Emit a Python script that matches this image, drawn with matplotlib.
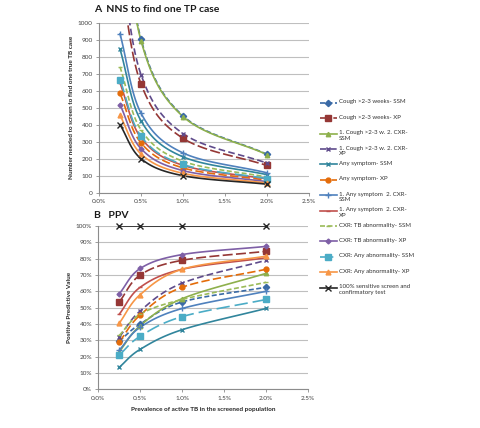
import numpy as np
import matplotlib
matplotlib.use("Agg")
import matplotlib.pyplot as plt
from matplotlib.lines import Line2D
from matplotlib.ticker import FuncFormatter

plt.rcParams['font.family'] = ['Lato', 'DejaVu Sans']

prev = [0.25, 0.5, 1.0, 2.0]

labels = [
    "Cough >2-3 weeks- SSM",
    "Cough >2-3 weeks- XP",
    "1. Cough >2-3 w. 2. CXR-\nSSM",
    "1. Cough >2-3 w. 2. CXR-\nXP",
    "Any symptom- SSM",
    "Any symptom- XP",
    "1. Any symptom  2. CXR-\nSSM",
    "1. Any symptom  2. CXR-\nXP",
    "CXR: TB abnormality- SSM",
    "CXR: TB abnormality- XP",
    "CXR: Any abnormality- SSM",
    "CXR: Any abnormality- XP",
    "100% sensitive screen and\nconfirmatory test",
]

# Panel A: number needed to screen
nns_cough_ssm = [1808, 904, 452, 226]
nns_cough_xp = [1280, 640, 320, 160]
nns_cough_cxr_ssm = [1790, 895, 448, 224]
nns_cough_cxr_xp = [1390, 695, 348, 174]
nns_any_ssm = [845, 423, 211, 106]
nns_any_xp = [585, 293, 146, 73]
nns_any_cxr_ssm = [935, 468, 234, 117]
nns_any_cxr_xp = [645, 323, 161, 81]
nns_tb_ssm = [740, 370, 185, 92]
nns_tb_xp = [518, 259, 130, 65]
nns_anyab_ssm = [665, 333, 166, 83]
nns_anyab_xp = [455, 228, 114, 57]
nns_perfect = [400, 200, 100, 50]

# Panel B: positive predictive value (%)
ppv_cough_ssm = [29.5, 40, 53.5, 62.5]
ppv_cough_xp = [53.5, 70, 79, 84.5]
ppv_cough_cxr_ssm = [23, 39, 55.5, 71]
ppv_cough_cxr_xp = [32, 48, 65, 79]
ppv_any_ssm = [13.5, 24.5, 36.5, 49.5]
ppv_any_xp = [29, 45.5, 62.5, 73.5]
ppv_any_cxr_ssm = [24, 38, 49.5, 60]
ppv_any_cxr_xp = [46, 62.5, 73.5, 80.5]
ppv_tb_ssm = [33, 46, 55, 65.5]
ppv_tb_xp = [58.5, 74, 82.5, 87.5]
ppv_anyab_ssm = [21, 32.5, 44.5, 55]
ppv_anyab_xp = [40.5, 58, 73.5, 81.5]
ppv_perfect = [100, 100, 100, 100]

nns = [nns_cough_ssm, nns_cough_xp, nns_cough_cxr_ssm, nns_cough_cxr_xp,
       nns_any_ssm, nns_any_xp, nns_any_cxr_ssm, nns_any_cxr_xp,
       nns_tb_ssm, nns_tb_xp, nns_anyab_ssm, nns_anyab_xp, nns_perfect]
ppv = [ppv_cough_ssm, ppv_cough_xp, ppv_cough_cxr_ssm, ppv_cough_cxr_xp,
       ppv_any_ssm, ppv_any_xp, ppv_any_cxr_ssm, ppv_any_cxr_xp,
       ppv_tb_ssm, ppv_tb_xp, ppv_anyab_ssm, ppv_anyab_xp, ppv_perfect]

styles = [
    dict(color='#3A6AA6', ls=(0, (3, 1.5)), marker='D', ms=3.2),
    dict(color='#953735', ls=(0, (6, 2)), marker='s', ms=3.8),
    dict(color='#8EB04C', ls='-', marker='^', ms=3.2),
    dict(color='#5F4B8B', ls=(0, (4, 2)), marker='x', ms=3.5),
    dict(color='#31859C', ls='-', marker='x', ms=3.2),
    dict(color='#E46C0A', ls=(0, (5, 2)), marker='o', ms=3.5),
    dict(color='#4F81BD', ls='-', marker='+', ms=4),
    dict(color='#C0504D', ls='-', marker='_', ms=3),
    dict(color='#9BBB59', ls=(0, (3, 1.5)), marker='_', ms=3),
    dict(color='#7E5FA6', ls='-', marker='D', ms=2.5),
    dict(color='#4BACC6', ls=(0, (8, 3)), marker='s', ms=3.8),
    dict(color='#F79646', ls='-', marker='^', ms=3.5),
    dict(color='#262626', ls='-', marker='x', ms=4),
]


def smooth(x, y, xr, yr, n=40):
    # Catmull-Rom smoothing in normalised (screen-like) coordinates
    x = np.asarray(x, float) / xr
    y = np.asarray(y, float) / yr
    P = np.column_stack([x, y])
    P = np.vstack([P[0] - (P[1] - P[0]), P, P[-1] + (P[-1] - P[-2])])
    out = []
    for i in range(1, len(P) - 2):
        p0, p1, p2, p3 = P[i - 1], P[i], P[i + 1], P[i + 2]
        t = np.linspace(0, 1, n)[:, None]
        c1 = p1 + (p2 - p0) / 6
        c2 = p2 - (p3 - p1) / 6
        seg = ((1 - t) ** 3) * p1 + 3 * ((1 - t) ** 2) * t * c1 + 3 * (1 - t) * t ** 2 * c2 + t ** 3 * p2
        out.append(seg if i == 1 else seg[1:])
    S = np.vstack(out)
    return S[:, 0] * xr, S[:, 1] * yr


fig = plt.figure(figsize=(4.81, 4.28), dpi=100)
axA = fig.add_axes([99 / 481, 1 - 192.7 / 428, 210 / 481, 170 / 428])
axB = fig.add_axes([98.3 / 481, 1 - 389.3 / 428, 209.7 / 481, 163.3 / 428])

tick_color = '#404040'
for ax in (axA, axB):
    ax.set_xlim(0, 2.5)
    ax.set_xticks([0, 0.5, 1.0, 1.5, 2.0, 2.5])
    ax.xaxis.set_major_formatter(FuncFormatter(lambda v, p: f"{v:.1f}%"))
    ax.grid(axis='y', color='#bfbfbf', lw=0.8)
    ax.set_axisbelow(True)
    for s in ('top', 'right'):
        ax.spines[s].set_visible(False)
    for s in ('left', 'bottom'):
        ax.spines[s].set_color('#8c8c8c')
        ax.spines[s].set_linewidth(0.8)
    ax.tick_params(labelsize=4.6, colors=tick_color, length=2.5, width=0.6, pad=2)
    ax.tick_params(axis='both', color='#8c8c8c')

axA.set_ylim(0, 1000)
axA.set_yticks(range(0, 1001, 100))
axB.set_ylim(0, 100)
axB.set_yticks(range(0, 101, 10))
axB.yaxis.set_major_formatter(FuncFormatter(lambda v, p: f"{v:.0f}%"))

for vals, st in zip(nns, styles):
    xs, ys = smooth(prev, vals, 2.5, 1000)
    axA.plot(xs, ys, color=st['color'], ls=st['ls'], lw=1.2, zorder=3)
    axA.plot(prev, vals, ls='none', marker=st['marker'], ms=st['ms'], color=st['color'],
             mew=1.0, zorder=4, clip_on=True)
for vals, st in zip(ppv, styles):
    xs, ys = smooth(prev, vals, 2.5, 100)
    axB.plot(xs, ys, color=st['color'], ls=st['ls'], lw=1.2, zorder=3)
    axB.plot(prev, vals, ls='none', marker=st['marker'], ms=st['ms'], color=st['color'],
             mew=1.0, zorder=4, clip_on=False)

axA.set_ylabel("Number needed to screen to find one true TB case", fontsize=4.6,
               fontweight='bold', color='#262626', labelpad=3)
axB.set_ylabel("Positive Predictive Value", fontsize=4.6, fontweight='bold',
               color='#262626', labelpad=3)
axB.set_xlabel("Prevalence of active TB in the screened population", fontsize=4.6,
               fontweight='bold', color='#262626', labelpad=5)

fig.text(94 / 481, 1 - 10 / 428, "A  NNS to find one TP case", fontsize=7.5,
         fontweight='bold', va='center', ha='left', color='#1a1a1a')
fig.text(94 / 481, 1 - 216 / 428, "B   PPV", fontsize=7.5,
         fontweight='bold', va='center', ha='left', color='#1a1a1a')

# legend drawn at fixed spacing (Excel style)
for i, (lab, st) in enumerate(zip(labels, styles)):
    yp = 102.7 + 15.4 * i
    yf = 1 - yp / 428
    fig.add_artist(Line2D([320 / 481, 337 / 481], [yf, yf], color=st['color'],
                          ls=st['ls'], lw=1.2, transform=fig.transFigure))
    fig.add_artist(Line2D([328.5 / 481], [yf], color=st['color'], marker=st['marker'],
                          ms=st['ms'], mew=1.0, ls='none', transform=fig.transFigure))
    fig.text(339 / 481, 1 - (yp - 3.3) / 428, lab, fontsize=4.4, va='top', ha='left',
             color='#333333', linespacing=1.1)

fig.savefig("out.png", dpi=100)
